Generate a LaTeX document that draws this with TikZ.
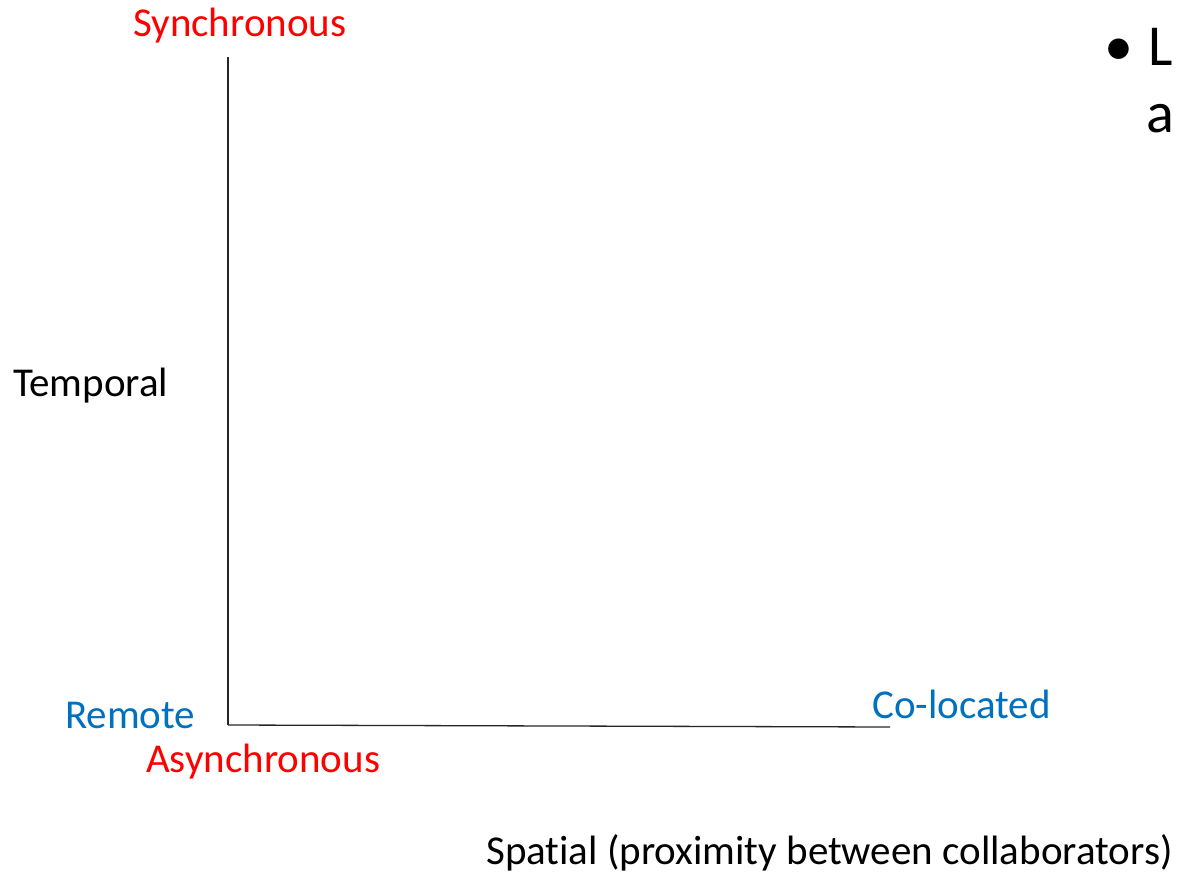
\documentclass[tikz,border=0pt]{standalone}
\usepackage{fontspec}
\setmainfont{Carlito}[Ligatures=NoCommon]
\definecolor{axred}{RGB}{255,0,0}
\definecolor{axblue}{RGB}{0,112,192}
\begin{document}
\begin{tikzpicture}[x=1pt,y=-1pt,
  lbl/.style={anchor=base west,inner sep=0pt,font=\fontsize{41}{49}\selectfont},
  big/.style={anchor=base west,inner sep=0pt,font=\fontsize{58}{70}\selectfont},
  axis/.style={line width=1.3pt,black!85}]
\useasboundingbox (0,0) rectangle (1177,874);
\coordinate (top) at (228,57);
\coordinate (origin) at (228,725);
\coordinate (right) at (890,727);
\draw[axis] (top) -- (origin);
\draw[axis] (origin) -- (right);
\node[lbl,text=axred] (sync) at (133,37) {Synchronous};
\node[lbl] (temp) at (13,396) {Temporal};
\node[lbl,text=axblue] (remote) at (65,728) {Remote};
\node[lbl,text=axred] (async) at (146,772) {Asynchronous};
\node[lbl,text=axblue] (coloc) at (872,718) {Co-located};
\node[lbl] (spatial) at (486,864) {Spatial (proximity between collaborators)};
\node[big] (bul) at (1104,66) {•};
\node[big] (L) at (1148,66) {L};
\node[big] (a) at (1146,133) {a};
\end{tikzpicture}
\end{document}
